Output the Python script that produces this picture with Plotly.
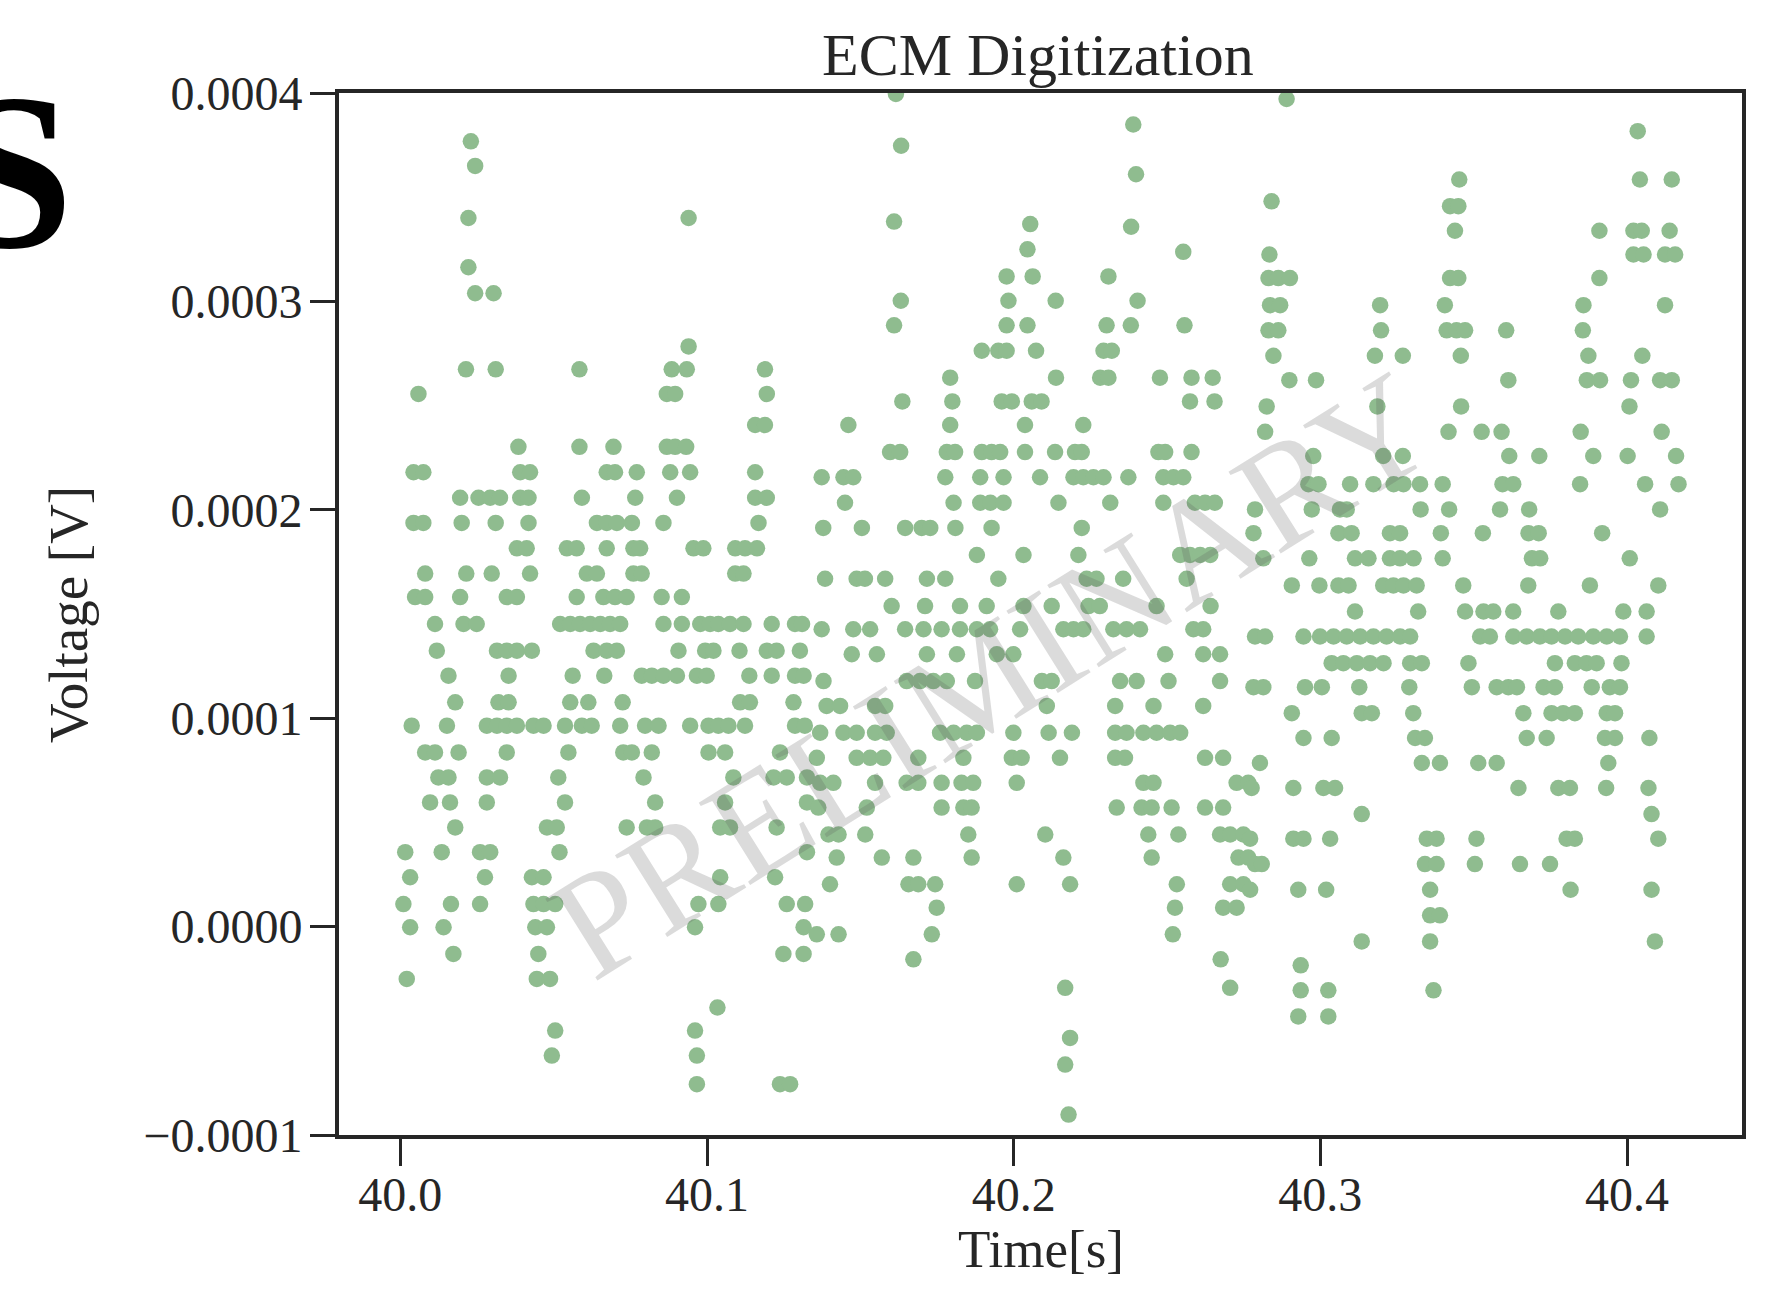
import plotly.graph_objects as go

# ---- data: digitized ECM samples, grouped by quantized voltage level ----
row_voltage_uV = [
    # upper-left block
    376.8, 365.0, 340.0, 316.4, 303.9, 278.4, 267.4, 255.6, 240.7, 230.2, 218.0, 205.8, 193.7, 181.5, 169.4,
    # upper-middle block
    399.5, 384.9, 374.7, 361.0, 338.3, 337.1, 335.8, 325.0, 323.8, 312.0, 300.3, 288.5, 276.3, 263.4, 252.0,
    240.7, 227.7, 215.6, 203.4, 191.3, 178.3, 166.9,
    # upper-right block
    397.1, 381.7, 358.5, 348.0, 345.7, 333.9, 322.5, 311.2, 298.2, 286.1, 273.9, 262.2, 249.6, 237.4, 225.8,
    212.3, 200.2, 188.8, 176.7, 163.7,
    # lower-left block
    158.1, 145.2, 132.4, 120.4, 107.6, 96.4, 83.6, 71.6, 59.6, 47.6, 35.7, 23.7, 10.8, -0.3, -13.1, -25.1,
    -38.8, -49.9, -61.9, -75.6,
    # lower-middle block
    153.8, 142.7, 130.7, 117.8, 105.9, 93.0, 81.0, 69.0, 57.1, 44.2, 33.1, 20.3, 9.1, -3.7, -15.7, -29.4,
    -53.4, -66.2, -90.2,
    # lower-right block
    151.2, 139.2, 126.4, 114.9, 102.4, 90.5, 78.5, 66.5, 54.0, 42.2, 30.0, 17.7, 5.4, -7.1, -18.6, -30.6, -43.1,
]

row_times_s = [
    # upper-left block
    [40.0230],
    [40.0244],
    [40.0222, 40.0940],
    [40.0222],
    [40.0244, 40.0304],
    [40.0940],
    [40.0214, 40.0311, 40.0584, 40.0885, 40.0934, 40.1189],
    [40.0059, 40.0869, 40.0896, 40.1195],
    [40.1157, 40.1189],
    [40.0385, 40.0584, 40.0695, 40.0869, 40.0896, 40.0932],
    [40.0043, 40.0075, 40.0391, 40.0423, 40.0673, 40.0700, 40.0771, 40.0880, 40.0945, 40.1157],
    [40.0195, 40.0255, 40.0293, 40.0325, 40.0391, 40.0418, 40.0592, 40.0766, 40.0902, 40.1157, 40.1195],
    [40.0043, 40.0075, 40.0200, 40.0311, 40.0418, 40.0641, 40.0673, 40.0706, 40.0755, 40.0858, 40.1168],
    [40.0380, 40.0412, 40.0543, 40.0575, 40.0673, 40.0760, 40.0782, 40.0956, 40.0988, 40.1092, 40.1124, 40.1163],
    [40.0081, 40.0215, 40.0298, 40.0423, 40.0608, 40.0641, 40.0760, 40.0787, 40.1092, 40.1119],
    # upper-middle block
    [40.1616],
    [40.2390],
    [40.1633],
    [40.2399],
    [40.1610],
    [40.2054],
    [40.2383],
    [40.2045],
    [40.2553],
    [40.1977, 40.2062, 40.2309],
    [40.1632, 40.1983, 40.2137, 40.2404],
    [40.1610, 40.1977, 40.2045, 40.2303, 40.2382, 40.2557],
    [40.1896, 40.1950, 40.1977, 40.2073, 40.2293, 40.2320],
    [40.1793, 40.2138, 40.2282, 40.2309, 40.2477, 40.2580, 40.2649],
    [40.1637, 40.1800, 40.1961, 40.1994, 40.2059, 40.2091, 40.2575, 40.2655],
    [40.1461, 40.1793, 40.2037, 40.2227],
    [40.1597, 40.1630, 40.1782, 40.1809, 40.1896, 40.1928, 40.1956, 40.2037, 40.2135, 40.2200, 40.2222,
     40.2472, 40.2494, 40.2580],
    [40.1374, 40.1445, 40.1477, 40.1777, 40.1891, 40.1967, 40.2086, 40.2195, 40.2227, 40.2260, 40.2293,
     40.2374, 40.2488, 40.2521, 40.2553],
    [40.1450, 40.1804, 40.1891, 40.1924, 40.1967, 40.2146, 40.2315, 40.2488, 40.2591, 40.2624, 40.2656],
    [40.1379, 40.1505, 40.1646, 40.1700, 40.1728, 40.1810, 40.1928, 40.2222],
    [40.1880, 40.2032, 40.2211, 40.2543, 40.2575, 40.2608, 40.2641],
    [40.1385, 40.1488, 40.1515, 40.1581, 40.1717, 40.1777, 40.1950, 40.2238, 40.2270, 40.2357, 40.2564],
    # upper-right block
    [40.2890],
    [40.4035],
    [40.3453, 40.4042, 40.4146],
    [40.2841],
    [40.3423, 40.3450],
    [40.3439, 40.3910, 40.4021, 40.4048, 40.4139],
    [40.2834, 40.4021, 40.4054, 40.4124, 40.4157],
    [40.2831, 40.2863, 40.2901, 40.3423, 40.3450, 40.3910],
    [40.2836, 40.2869, 40.3195, 40.3406, 40.3858, 40.4124],
    [40.2831, 40.2863, 40.3198, 40.3412, 40.3444, 40.3472, 40.3606, 40.3856],
    [40.2847, 40.3178, 40.3269, 40.3458, 40.3874, 40.4050],
    [40.2899, 40.2986, 40.3613, 40.3869, 40.3912, 40.4013, 40.4108, 40.4146],
    [40.2825, 40.3186, 40.3459, 40.4008],
    [40.2820, 40.3418, 40.3526, 40.3591, 40.3849, 40.4113],
    [40.2977, 40.3205, 40.3269, 40.3616, 40.3714, 40.3890, 40.4002, 40.4160],
    [40.2961, 40.2994, 40.3097, 40.3173, 40.3239, 40.3271, 40.3325, 40.3399, 40.3594, 40.3629, 40.3847,
     40.4059, 40.4168],
    [40.2787, 40.2972, 40.3064, 40.3086, 40.3327, 40.3420, 40.3586, 40.3681, 40.4108],
    [40.2782, 40.3059, 40.3102, 40.3227, 40.3260, 40.3393, 40.3530, 40.3679, 40.3712, 40.3919],
    [40.2814, 40.2964, 40.3113, 40.3157, 40.3227, 40.3260, 40.3304, 40.3399, 40.3690, 40.3717, 40.4009],
    [40.2907, 40.2997, 40.3059, 40.3092, 40.3205, 40.3238, 40.3271, 40.3314, 40.3466, 40.3678, 40.3879,
     40.4102],
    # lower-left block
    [40.0048, 40.0081, 40.0195, 40.0347, 40.0380, 40.0575, 40.0662, 40.0700, 40.0738, 40.0852, 40.0918],
    [40.0113, 40.0206, 40.0249, 40.0521, 40.0554, 40.0586, 40.0619, 40.0652, 40.0684, 40.0717, 40.0858,
     40.0918, 40.0978, 40.1010, 40.1037, 40.1075, 40.1119, 40.1211, 40.1287, 40.1310],
    [40.0119, 40.0315, 40.0347, 40.0380, 40.0429, 40.0630, 40.0673, 40.0706, 40.0907, 40.0994, 40.1021,
     40.1106, 40.1195, 40.1227, 40.1303],
    [40.0157, 40.0353, 40.0562, 40.0665, 40.0787, 40.0820, 40.0858, 40.0902, 40.0967, 40.0999, 40.1138,
     40.1211, 40.1287, 40.1315],
    [40.0179, 40.0320, 40.0353, 40.0554, 40.0613, 40.0725, 40.1108, 40.1140, 40.1282],
    [40.0037, 40.0152, 40.0282, 40.0315, 40.0347, 40.0380, 40.0434, 40.0467, 40.0537, 40.0592, 40.0624,
     40.0717, 40.0798, 40.0842, 40.0945, 40.1005, 40.1037, 40.1070, 40.1124, 40.1287, 40.1319],
    [40.0081, 40.0113, 40.0190, 40.0347, 40.0548, 40.0727, 40.0755, 40.0820, 40.1005, 40.1059, 40.1238],
    [40.0124, 40.0157, 40.0282, 40.0325, 40.0515, 40.0793, 40.1086, 40.1217, 40.1260, 40.1326],
    [40.0097, 40.0162, 40.0282, 40.0537, 40.0831, 40.1059, 40.1326],
    [40.0179, 40.0478, 40.0510, 40.0738, 40.0804, 40.0831, 40.1043, 40.1075, 40.1227],
    [40.0016, 40.0135, 40.0260, 40.0293, 40.0519, 40.1326],
    [40.0032, 40.0276, 40.0429, 40.0467, 40.1043, 40.1222],
    [40.0010, 40.0165, 40.0260, 40.0434, 40.0467, 40.0505, 40.0972, 40.1037, 40.1260, 40.1320],
    [40.0032, 40.0141, 40.0440, 40.0478, 40.0961, 40.1315],
    [40.0173, 40.0450, 40.1249, 40.1315],
    [40.0021, 40.0445, 40.0488],
    [40.1034],
    [40.0505, 40.0961],
    [40.0494, 40.0967],
    [40.0967, 40.1238, 40.1271],
    # lower-middle block
    [40.1602, 40.1711, 40.1825, 40.1912, 40.2032, 40.2124, 40.2244, 40.2281, 40.2466, 40.2642],
    [40.1374, 40.1477, 40.1532, 40.1646, 40.1706, 40.1765, 40.1825, 40.1880, 40.1923, 40.2021, 40.2162,
     40.2195, 40.2227, 40.2325, 40.2368, 40.2412, 40.2586, 40.2618],
    [40.1472, 40.1554, 40.1717, 40.1815, 40.1945, 40.1999, 40.2494, 40.2618, 40.2673],
    [40.1380, 40.1651, 40.1695, 40.1738, 40.1782, 40.1874, 40.2092, 40.2124, 40.2347, 40.2401, 40.2505,
     40.2673],
    [40.1390, 40.1434, 40.1548, 40.1581, 40.2108, 40.2331, 40.2456, 40.2618],
    [40.1369, 40.1445, 40.1488, 40.1548, 40.1586, 40.1760, 40.1804, 40.1847, 40.1880, 40.1999, 40.2114,
     40.2190, 40.2331, 40.2368, 40.2423, 40.2466, 40.2510, 40.2543],
    [40.1358, 40.1488, 40.1532, 40.1575, 40.1689, 40.1836, 40.1994, 40.2026, 40.2151, 40.2331, 40.2363,
     40.2624, 40.2683],
    [40.1369, 40.1412, 40.1548, 40.1651, 40.1689, 40.1765, 40.1830, 40.1868, 40.2010, 40.2423, 40.2456,
     40.2727, 40.2765],
    [40.1363, 40.1521, 40.1765, 40.1836, 40.1863, 40.2336, 40.2417, 40.2450, 40.2515, 40.2624, 40.2683],
    [40.1396, 40.1429, 40.1516, 40.1852, 40.2103, 40.2439, 40.2537, 40.2673, 40.2706, 40.2749],
    [40.1423, 40.1570, 40.1673, 40.1863, 40.2162, 40.2450, 40.2733, 40.2765],
    [40.1401, 40.1657, 40.1689, 40.1744, 40.2010, 40.2184, 40.2532, 40.2706, 40.2749],
    [40.1749, 40.2526, 40.2683, 40.2727],
    [40.1358, 40.1429, 40.1733, 40.2519],
    [40.1673, 40.2675],
    [40.2168, 40.2706],
    [40.2184],
    [40.2168],
    [40.2179],
    # lower-right block
    [40.3113, 40.3319, 40.3472, 40.3532, 40.3564, 40.3629, 40.3776, 40.3988, 40.4064],
    [40.2787, 40.2820, 40.2945, 40.2999, 40.3043, 40.3086, 40.3130, 40.3173, 40.3216, 40.3260, 40.3293,
     40.3521, 40.3553, 40.3629, 40.3673, 40.3716, 40.3754, 40.3798, 40.3841, 40.3890, 40.3934, 40.3977,
     40.4064],
    [40.3037, 40.3075, 40.3119, 40.3162, 40.3206, 40.3293, 40.3331, 40.3483, 40.3765, 40.3830, 40.3868,
     40.3901, 40.3982],
    [40.2782, 40.2814, 40.2950, 40.3005, 40.3127, 40.3290, 40.3494, 40.3575, 40.3613, 40.3641, 40.3728,
     40.3765, 40.3885, 40.3944, 40.3977],
    [40.2907, 40.3135, 40.3168, 40.3303, 40.3662, 40.3754, 40.3792, 40.3830, 40.3934, 40.3961],
    [40.2945, 40.3037, 40.3309, 40.3341, 40.3673, 40.3738, 40.3928, 40.3961, 40.4073],
    [40.2803, 40.3331, 40.3390, 40.3515, 40.3575, 40.3939],
    [40.2776, 40.2912, 40.3010, 40.3048, 40.3646, 40.3776, 40.3814, 40.3932, 40.4070],
    [40.3135, 40.4080],
    [40.2771, 40.2912, 40.2945, 40.3032, 40.3347, 40.3379, 40.3509, 40.3803, 40.3830, 40.4102],
    [40.2787, 40.2809, 40.3341, 40.3379, 40.3504, 40.3651, 40.3749],
    [40.2771, 40.2928, 40.3019, 40.3358, 40.3816, 40.4080],
    [40.3358, 40.3390],
    [40.3135, 40.3358, 40.4091],
    [40.2936],
    [40.2936, 40.3026, 40.3369],
    [40.2928, 40.3026],
]

x_tick_values = [40.0, 40.1, 40.2, 40.3, 40.4]
x_tick_labels = ["40.0", "40.1", "40.2", "40.3", "40.4"]
y_tick_values = [-0.0001, 0.0, 0.0001, 0.0002, 0.0003, 0.0004]
y_tick_labels = ["\u22120.0001", "0.0000", "0.0001", "0.0002", "0.0003", "0.0004"]

title_text = "ECM Digitization"
x_label = "Time[s]"
y_label = "Voltage [V]"
watermark_text = "PRELIMINARY"

# flatten rows into point lists (µV -> V)
time_s = []
voltage_V = []
for v_uV, ts in zip(row_voltage_uV, row_times_s):
    for t in ts:
        time_s.append(t)
        voltage_V.append(v_uV * 1e-6)

SERIF = "Liberation Serif, Times New Roman, serif"
INK = "#262626"

fig = go.Figure()
fig.add_trace(go.Scatter(
    x=time_s, y=voltage_V, mode="markers",
    marker=dict(size=16.5, color="#8fbc8f", line=dict(width=0)),
    hoverinfo="skip", showlegend=False,
))

axis_common = dict(
    showgrid=False, zeroline=False, showline=True, linewidth=4, linecolor=INK,
    mirror=True, ticks="outside", tickwidth=3, tickcolor=INK,
    tickfont=dict(family=SERIF, size=48, color=INK),
)

fig.update_xaxes(
    range=[39.9800, 40.4375], tickvals=x_tick_values, ticktext=x_tick_labels,
    ticklen=27, ticklabelstandoff=-13, **axis_common,
)
fig.update_yaxes(
    range=[-0.0001, 0.0004], tickvals=y_tick_values, ticktext=y_tick_labels,
    ticklen=25, ticklabelstandoff=-2, **axis_common,
)

annotations = [
    dict(text=title_text, x=0.4982, y=1.0365, xref="paper", yref="paper",
         xanchor="center", yanchor="middle", showarrow=False,
         font=dict(family=SERIF, size=60, color=INK)),
    dict(text=x_label, x=0.5, y=-0.1094, xref="paper", yref="paper",
         xanchor="center", yanchor="middle", showarrow=False,
         font=dict(family=SERIF, size=53, color=INK)),
    dict(text=y_label, x=-0.1932, y=0.5, xref="paper", yref="paper",
         xanchor="center", yanchor="middle", showarrow=False, textangle=-90,
         font=dict(family=SERIF, size=55, color=INK)),
    dict(text=watermark_text, x=0.4653, y=0.4417, xref="paper", yref="paper",
         xanchor="center", yanchor="middle", showarrow=False, textangle=-32,
         font=dict(family=SERIF, size=148, color="rgba(90,90,90,0.22)")),
    dict(text="<b>S</b>", x=-0.1882, y=0.9242, xref="paper", yref="paper",
         xanchor="right", yanchor="middle", showarrow=False,
         font=dict(family=SERIF, size=222, color="#000000")),
]

fig.update_layout(
    width=1768, height=1290, autosize=False,
    margin=dict(l=339, r=26, t=93, b=155, pad=0),
    paper_bgcolor="#ffffff", plot_bgcolor="#ffffff",
    annotations=annotations,
)

fig.write_html("out.html", config={"displayModeBar": False})
